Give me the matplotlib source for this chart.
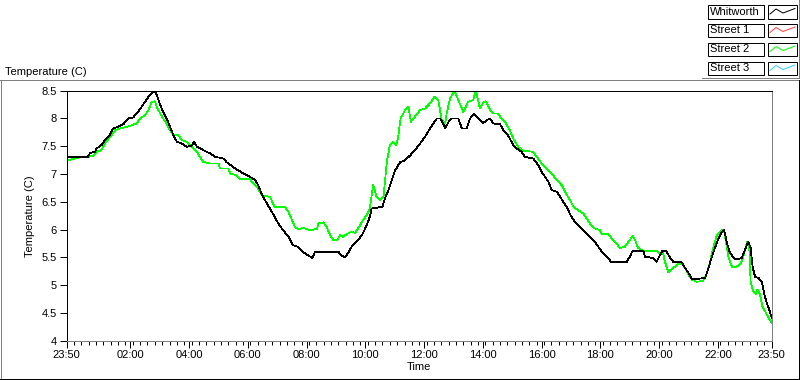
"""
Temperature chart: Whitworth vs street sensors over one day
"""

import matplotlib
matplotlib.use("Agg")
import matplotlib.pyplot as plt
import numpy as np
from matplotlib.lines import Line2D
from matplotlib.patches import Rectangle


# --- data (minutes after 23:50, temperature in C) ---
whit_min = [
    0, 43, 48, 58, 61, 71, 78, 88, 95, 105, 116, 126, 136, 146, 153, 160, 167, 174, 180, 184,
    191, 197, 204, 211, 218, 225, 235, 245, 255, 260, 266, 272, 279, 293, 303, 320, 327, 344,
    361, 374, 385, 391, 398, 405, 415, 425, 432, 442, 453, 462, 473, 480, 490, 502, 507, 555,
    562, 568, 575, 582, 592, 603, 613, 619, 623, 645, 650, 657, 664, 671, 681, 691, 701, 711,
    722, 732, 742, 749, 756, 763, 769, 773, 780, 786, 800, 807, 817, 824, 832, 841, 851, 858,
    865, 871, 885, 892, 899, 905, 912, 919, 929, 936, 953, 963, 970, 977, 984, 991, 1001, 1008,
    1014, 1023, 1029, 1038, 1048, 1058, 1069, 1079, 1086, 1093, 1103, 1112, 1144, 1150, 1156,
    1178, 1181, 1198, 1205, 1210, 1217, 1225, 1232, 1239, 1256, 1263, 1270, 1277, 1287, 1304,
    1310, 1317, 1324, 1331, 1338, 1343, 1348, 1354, 1362, 1368, 1379, 1385, 1392, 1397, 1401,
    1406, 1413, 1420, 1425, 1430, 1435, 1440,
]
whit_temp = [
    7.31, 7.31, 7.38, 7.40, 7.46, 7.52, 7.61, 7.70, 7.82, 7.85, 7.90, 8.00, 8.02, 8.12, 8.21,
    8.30, 8.39, 8.45, 8.50, 8.42, 8.24, 8.12, 8.00, 7.85, 7.70, 7.58, 7.55, 7.49, 7.51, 7.58,
    7.49, 7.47, 7.43, 7.37, 7.31, 7.28, 7.21, 7.10, 7.01, 6.95, 6.89, 6.80, 6.65, 6.53, 6.38,
    6.23, 6.11, 5.99, 5.87, 5.72, 5.69, 5.62, 5.55, 5.49, 5.60, 5.60, 5.53, 5.50, 5.58, 5.69,
    5.78, 5.90, 6.08, 6.23, 6.38, 6.41, 6.56, 6.71, 6.89, 7.07, 7.21, 7.25, 7.33, 7.43, 7.55,
    7.67, 7.82, 7.91, 8.00, 8.00, 7.91, 7.82, 7.94, 8.00, 8.00, 7.82, 7.82, 8.00, 8.09, 8.00,
    7.92, 7.97, 8.00, 7.91, 7.90, 7.79, 7.73, 7.64, 7.52, 7.46, 7.40, 7.31, 7.28, 7.16, 7.04,
    6.95, 6.86, 6.71, 6.68, 6.59, 6.50, 6.38, 6.26, 6.14, 6.05, 5.96, 5.87, 5.78, 5.69, 5.60,
    5.51, 5.42, 5.42, 5.51, 5.62, 5.62, 5.51, 5.49, 5.42, 5.51, 5.62, 5.61, 5.50, 5.42, 5.41,
    5.31, 5.22, 5.11, 5.11, 5.13, 5.28, 5.49, 5.67, 5.84, 5.96, 5.99, 5.78, 5.60, 5.49, 5.46,
    5.49, 5.63, 5.78, 5.67, 5.33, 5.15, 5.13, 5.06, 4.83, 4.68, 4.56, 4.41,
]

street2_min = [
    0, 3, 13, 27, 44, 54, 61, 71, 78, 85, 92, 99, 109, 123, 133, 143, 150, 160, 167, 174, 180,
    184, 191, 197, 204, 211, 218, 228, 235, 245, 255, 266, 272, 279, 293, 310, 313, 330, 334,
    347, 354, 374, 381, 391, 398, 415, 425, 446, 453, 460, 466, 473, 483, 497, 511, 514, 524,
    531, 538, 545, 553, 558, 565, 572, 582, 589, 596, 603, 613, 619, 623, 626, 633, 640, 647,
    654, 660, 667, 673, 677, 682, 691, 698, 703, 711, 722, 732, 742, 751, 759, 766, 773, 776,
    783, 792, 800, 810, 820, 830, 836, 844, 852, 856, 865, 871, 881, 888, 895, 905, 912, 922,
    932, 953, 960, 970, 980, 991, 1001, 1011, 1018, 1028, 1035, 1045, 1055, 1062, 1069, 1076,
    1089, 1093, 1106, 1116, 1123, 1130, 1140, 1150, 1156, 1161, 1167, 1178, 1205, 1212, 1217,
    1222, 1229, 1239, 1249, 1256, 1263, 1270, 1277, 1287, 1300, 1308, 1314, 1321, 1328, 1338,
    1343, 1347, 1352, 1359, 1368, 1377, 1383, 1390, 1394, 1397, 1402, 1408, 1411, 1416, 1421,
    1430, 1440,
]
street2_temp = [
    7.27, 7.25, 7.27, 7.30, 7.31, 7.33, 7.40, 7.43, 7.55, 7.63, 7.70, 7.79, 7.82, 7.85, 7.88,
    7.91, 8.00, 8.06, 8.15, 8.30, 8.31, 8.21, 8.09, 8.00, 7.91, 7.79, 7.70, 7.70, 7.61, 7.58,
    7.49, 7.40, 7.31, 7.22, 7.19, 7.19, 7.10, 7.10, 7.01, 6.98, 6.91, 6.91, 6.83, 6.74, 6.62,
    6.59, 6.41, 6.40, 6.32, 6.17, 6.05, 6.01, 6.03, 5.99, 6.01, 6.11, 6.13, 6.05, 5.90, 5.81,
    5.81, 5.90, 5.87, 5.92, 5.96, 5.94, 6.03, 6.14, 6.26, 6.38, 6.62, 6.80, 6.59, 6.53, 6.59,
    7.22, 7.52, 7.58, 7.52, 7.67, 8.00, 8.15, 8.21, 7.94, 8.03, 8.15, 8.18, 8.27, 8.39, 8.33,
    7.97, 7.91, 8.09, 8.36, 8.50, 8.33, 8.12, 8.30, 8.33, 8.50, 8.18, 8.30, 8.31, 8.15, 8.09,
    8.09, 8.00, 7.94, 7.79, 7.64, 7.49, 7.42, 7.40, 7.31, 7.19, 7.10, 7.01, 6.89, 6.80, 6.68,
    6.53, 6.41, 6.35, 6.29, 6.20, 6.11, 6.03, 5.99, 5.92, 5.92, 5.81, 5.75, 5.67, 5.69, 5.81,
    5.89, 5.81, 5.67, 5.62, 5.62, 5.55, 5.62, 5.42, 5.23, 5.31, 5.38, 5.39, 5.31, 5.19, 5.10,
    5.06, 5.08, 5.22, 5.42, 5.69, 5.90, 5.99, 5.96, 5.75, 5.49, 5.33, 5.33, 5.39, 5.55, 5.78,
    5.72, 5.06, 4.89, 4.83, 4.92, 4.83, 4.62, 4.47, 4.32,
]

tick_min = [0, 130, 250, 370, 490, 610, 730, 850, 970, 1090, 1210, 1330, 1440]
tick_labels = ["23:50", "02:00", "04:00", "06:00", "08:00", "10:00", "12:00",
               "14:00", "16:00", "18:00", "20:00", "22:00", "23:50"]
y_ticks = [4, 4.5, 5, 5.5, 6, 6.5, 7, 7.5, 8, 8.5]
y_labels = ["4", "4.5", "5", "5.5", "6", "6.5", "7", "7.5", "8", "8.5"]

legend_names = ["Whitworth", "Street 1", "Street 2", "Street 3"]
legend_colors = ["black", "#ff4040", "#00ff00", "#33ccff"]

W, H = 800, 380
FONT = 8
PX = 0.72  # one pixel in points at 100 dpi


def fx(x):
    return x / W


def fy(y):
    return 1 - y / H


plt.rcParams["font.family"] = ["Liberation Sans", "DejaVu Sans"]
fig = plt.figure(figsize=(W / 100, H / 100), dpi=100)

# --- outer frame ---
gray = "#808080"
fig.add_artist(Line2D([fx(0), fx(799)], [fy(80), fy(80)], color=gray, lw=PX))
fig.add_artist(Line2D([fx(1), fx(1)], [fy(80), fy(378)], color=gray, lw=PX))
fig.add_artist(Line2D([fx(0), fx(800)], [fy(378.5), fy(378.5)], color="black", lw=PX))
fig.add_artist(Line2D([fx(799), fx(799)], [fy(80), fy(379)], color="black", lw=PX))
fig.text(fx(5), fy(72), "Temperature (C)", fontsize=FONT, va="center", ha="left")

# --- main axes ---
ax = fig.add_axes([fx(66.7), fy(340.7), fx(771.7 - 66.7), (340.7 - 90.7) / H])
ax.plot(street2_min, street2_temp, color="#00ff00", lw=0.55, antialiased=False, zorder=2)
ax.plot(whit_min, whit_temp, color="black", lw=0.55, antialiased=False, zorder=3)

ax.set_xlim(0, 1440)
ax.set_ylim(4, 8.5)
ax.set_xticks(tick_min)
ax.set_xticklabels(tick_labels)
ax.set_xticks(np.arange(0, 1441, 15), minor=True)
ax.set_yticks(y_ticks)
ax.set_yticklabels(y_labels)

ax.tick_params(axis="x", which="major", length=5, width=PX, labelsize=FONT, pad=2)
ax.tick_params(axis="x", which="minor", length=3, width=PX)
ax.tick_params(axis="y", which="major", length=5, width=PX, labelsize=FONT, pad=2)

ax.spines["top"].set_color("black")
ax.spines["left"].set_color("black")
ax.spines["bottom"].set_color(gray)
ax.spines["right"].set_color(gray)
for s in ax.spines.values():
    s.set_linewidth(PX)

ax.set_xlabel("Time", fontsize=FONT, labelpad=1)
ax.set_ylabel("Temperature (C)", fontsize=FONT, labelpad=5)

# --- legend (drawn as boxes, like the instrument panel) ---
row_tops = [5, 23.5, 42.5, 61.5]
box_h = 13.5
for name, color, top in zip(legend_names, legend_colors, row_tops):
    fig.add_artist(Rectangle((fx(708), fy(top + box_h)), fx(55.5), box_h / H,
                             facecolor="white", edgecolor="black", lw=PX))
    fig.add_artist(Rectangle((fx(768), fy(top + box_h)), fx(29), box_h / H,
                             facecolor="white", edgecolor="black", lw=PX))
    fig.text(fx(710), fy(top + box_h / 2), name, fontsize=FONT, va="center", ha="left")
    zx = [770, 776, 783, 795]
    zy = [top + 9, top + 4, top + 8, top + 3.5]
    fig.add_artist(Line2D([fx(v) for v in zx], [fy(v) for v in zy], color=color, lw=PX))

fig.add_artist(Line2D([fx(702), fx(799)], [fy(77.5), fy(77.5)], color=gray, lw=PX))
fig.add_artist(Line2D([fx(799), fx(799)], [fy(0), fy(77.5)], color=gray, lw=PX))

fig.savefig("out.png", dpi=100)
